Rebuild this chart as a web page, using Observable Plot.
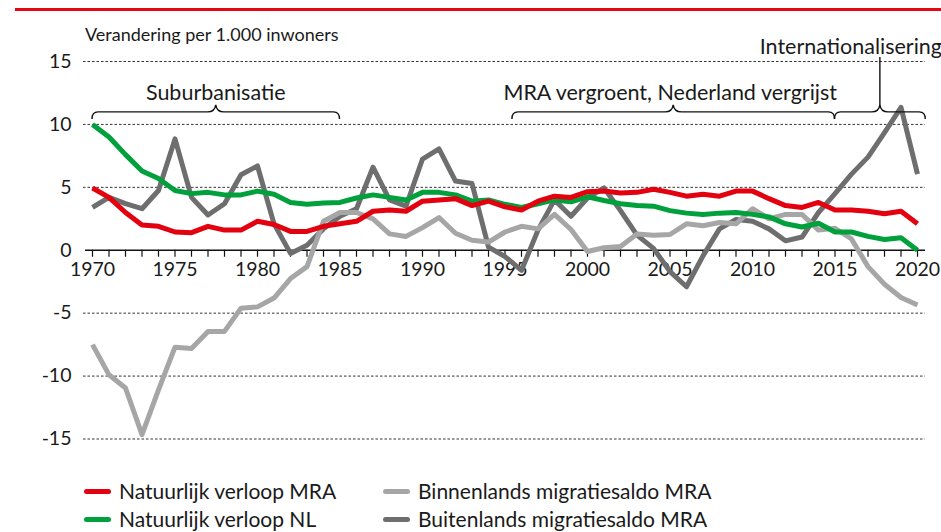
<!DOCTYPE html>
<html>
<head>
<meta charset="utf-8">
<script src="https://cdn.jsdelivr.net/npm/d3@7"></script>
<script src="https://cdn.jsdelivr.net/npm/@observablehq/plot@0.6"></script>
<style>
  body { margin: 0; background: #fff; }
  #wrap { position: relative; width: 941px; height: 532px; overflow: hidden; font-family: Lato, "Noto Sans", sans-serif; color: #1a1a1a; }
  #topbar { position: absolute; left: 15px; right: 0; top: 8px; height: 3px; background: #e30613; }
  #subtitle { position: absolute; left: 85px; top: 23px; font-size: 18px; line-height: 22px; }
  #chart { position: absolute; left: 0; top: 0; }
  .leg { position: absolute; font-size: 21px; line-height: 28px; height: 28px; white-space: nowrap; display: flex; align-items: center; }
  .sw { display: inline-block; width: 27px; height: 5px; border-radius: 3px; margin-right: 8px; }
</style>
</head>
<body>
<div id="wrap">
  <div id="topbar"></div>
  <div id="chart"></div>
  <div id="subtitle">Verandering per 1.000 inwoners</div>
  <div id="legend"></div>
</div>
<script>
// ---- Data (per 1.000 inwoners), 1970–2020 ----
const years = d3.range(1970, 2021);

const natuurlijkMRA = [4.95, 4.2, 3.0, 2.0, 1.9, 1.45, 1.4, 1.9, 1.6, 1.6,
  2.3, 2.05, 1.5, 1.5, 1.9, 2.1, 2.3, 3.1, 3.2, 3.1,
  3.9, 4.0, 4.1, 3.55, 3.9, 3.45, 3.2, 3.9, 4.3, 4.2,
  4.65, 4.7, 4.55, 4.6, 4.85, 4.6, 4.3, 4.45, 4.3, 4.7,
  4.7, 4.1, 3.55, 3.4, 3.8, 3.2, 3.2, 3.1, 2.9, 3.1, 2.1];

const natuurlijkNL = [10.0, 9.0, 7.6, 6.3, 5.7, 4.75, 4.5, 4.6, 4.4, 4.4,
  4.7, 4.45, 3.8, 3.65, 3.75, 3.8, 4.15, 4.4, 4.2, 4.0,
  4.6, 4.6, 4.4, 3.9, 4.0, 3.65, 3.4, 3.7, 4.0, 3.85,
  4.25, 3.95, 3.7, 3.55, 3.5, 3.15, 2.95, 2.85, 2.95, 3.0,
  2.85, 2.65, 2.1, 1.85, 2.15, 1.45, 1.45, 1.1, 0.85, 1.0, 0.0];

const binnenlands = [-7.5, -9.9, -10.95, -14.65, -11.1, -7.7, -7.8, -6.45, -6.45, -4.6,
  -4.5, -3.8, -2.25, -1.3, 2.3, 3.0, 3.0, 2.5, 1.3, 1.1,
  1.8, 2.6, 1.35, 0.8, 0.65, 1.45, 1.9, 1.7, 2.85, 1.65,
  -0.1, 0.2, 0.3, 1.3, 1.2, 1.25, 2.1, 1.95, 2.2, 2.1,
  3.3, 2.5, 2.85, 2.85, 1.6, 1.75, 0.9, -1.3, -2.7, -3.75, -4.35];

const buitenlands = [3.4, 4.2, 3.7, 3.3, 4.75, 8.85, 4.2, 2.8, 3.7, 6.0,
  6.7, 2.1, -0.25, 0.4, 1.7, 2.7, 3.3, 6.6, 4.0, 3.5,
  7.25, 8.05, 5.5, 5.3, 0.25, -0.5, -1.6, 1.6, 4.0, 2.7,
  4.15, 4.95, 3.15, 1.2, 0.15, -1.7, -2.9, -0.45, 1.7, 2.45,
  2.3, 1.7, 0.75, 1.05, 3.0, 4.5, 6.05, 7.4, 9.35, 11.35, 6.05];

const seriesNames = ["Natuurlijk verloop MRA", "Natuurlijk verloop NL",
  "Binnenlands migratiesaldo MRA", "Buitenlands migratiesaldo MRA"];
const seriesValues = [natuurlijkMRA, natuurlijkNL, binnenlands, buitenlands];
const seriesColors = ["#e3000f", "#00a03c", "#a6a6a6", "#6e6e6e"];
const drawOrder = [3, 2, 1, 0];

const yTicks = [15, 10, 5, 0, -5, -10, -15];
const gridValues = [15, 10, 5, -5, -10, -15];
const yearLabels = [1970, 1975, 1980, 1985, 1990, 1995, 2000, 2005, 2010, 2015, 2020];

// annotation periods
const periodLabels = ["Suburbanisatie", "MRA vergroent, Nederland vergrijst", "Internationalisering"];
const periodStart = [1970, 1995.45, 2015];
const periodEnd = [1985, 2015, 2020.5];
const braceLevel = 10.4;

// ---- build table ----
const rows = seriesNames.flatMap((name, s) =>
  seriesValues[s].map((v, i) => ({year: years[i], value: v, name})));

const font = "Lato, 'Noto Sans', sans-serif";

const chart = Plot.plot({
  width: 941,
  height: 470,
  marginLeft: 92,
  marginRight: 24,
  marginTop: 61,
  marginBottom: 31.5,
  style: {fontFamily: font, fontSize: "19px", color: "#1a1a1a", background: "transparent", overflow: "visible"},
  x: {domain: [1970, 2020], axis: null},
  y: {domain: [-15, 15], axis: null},
  marks: [
    Plot.ruleY(gridValues, {stroke: "#333", strokeWidth: 1, strokeDasharray: "2.5,2", insetLeft: -9, insetRight: -8}),
    Plot.ruleY([0], {stroke: "#111", strokeWidth: 1.4, insetLeft: -7, insetRight: -8}),
    Plot.ruleX(years, {x: d => d, y1: 0, y2: 0, insetBottom: -7, stroke: "#111", strokeWidth: 1.2}),
    Plot.text(yearLabels, {x: d => d, y: 0, dy: 19, text: d => String(d), fontSize: 19.5, fill: "#1a1a1a"}),
    Plot.text(yTicks, {x: 1970, y: d => d, dx: -21, textAnchor: "end", text: d => String(d), fontSize: 19.5, fill: "#1a1a1a"}),
    ...drawOrder.map(s => Plot.line(rows.filter(r => r.name === seriesNames[s]), {
      x: "year", y: "value", stroke: seriesColors[s], strokeWidth: 5,
      strokeLinecap: "butt", strokeLinejoin: "round"
    }))
  ]
});
document.getElementById("chart").appendChild(chart);

// ---- annotations (braces) using the plot's scales ----
const xs = chart.scale("x"), ys = chart.scale("y");
const svg = d3.select(chart);
const g = svg.append("g").attr("fill", "none").attr("stroke", "#111").attr("stroke-width", 1.4);
const yb = ys.apply(braceLevel);
const yh = yb - 7, yp = yb - 14;
periodLabels.forEach((label, i) => {
  const x0 = xs.apply(periodStart[i]), x1 = xs.apply(periodEnd[i]);
  const xm = (x0 + x1) / 2;
  const p = d3.path();
  p.moveTo(x0, yb);
  p.quadraticCurveTo(x0, yh, x0 + 6, yh);
  p.lineTo(xm - 8, yh);
  p.quadraticCurveTo(xm - 1, yh, xm, yp);
  p.quadraticCurveTo(xm + 1, yh, xm + 8, yh);
  p.lineTo(x1 - 6, yh);
  p.quadraticCurveTo(x1, yh, x1, yb);
  g.append("path").attr("d", p.toString());
  const t = svg.append("text")
    .attr("font-family", font).attr("font-size", 21.5).attr("fill", "#1a1a1a")
    .attr("text-anchor", "middle").attr("dominant-baseline", "central")
    .text(label);
  if (i === periodLabels.length - 1) {
    g.append("line").attr("x1", xm).attr("x2", xm).attr("y1", yp).attr("y2", yp - 48);
    t.attr("x", xm - 29).attr("y", yp - 59);
  } else {
    t.attr("x", xm - (i === 1 ? 3 : 0)).attr("y", yb - 27);
  }
});

// ---- legend ----
const legendPos = [[84, 477], [84, 505], [383, 477], [383, 505]];
const legend = d3.select("#legend");
seriesNames.forEach((name, i) => {
  const item = legend.append("div").attr("class", "leg")
    .style("left", legendPos[i][0] + "px").style("top", legendPos[i][1] + "px");
  item.append("span").attr("class", "sw").style("background", seriesColors[i]);
  item.append("span").text(name);
});
</script>
</body>
</html>
